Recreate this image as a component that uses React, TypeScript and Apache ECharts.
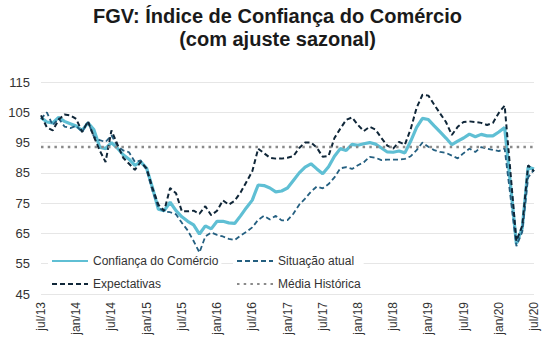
import React, { useEffect, useRef } from "react";
import * as echarts from "echarts";

const monthNames = ["jan", "fev", "mar", "abr", "mai", "jun", "jul", "ago", "set", "out", "nov", "dez"];
// jul/13 .. jul/20 (monthly)
const categories: string[] = [];
for (let y = 2013, m = 6; y < 2020 || (y === 2020 && m <= 6); ) {
  categories.push(`${monthNames[m]}/${String(y).slice(2)}`);
  m++;
  if (m === 12) { m = 0; y++; }
}

const confianca = [
  103.3, 101.8, 101.5, 103.3, 102, 101.2, 100.5, 99, 101.5, 99.3, 93.5, 93,
  95, 93.2, 91, 89.5, 87.5, 88.6, 86.5, 80, 73, 72.5, 75.3, 72.5,
  70.5, 69, 67.8, 64.8, 67.5, 66.5, 69, 69, 68.5, 68.3, 70.8, 73.5,
  76, 81, 80.8, 80, 78.7, 79, 80, 82.5, 85, 86.9, 88, 86.3,
  84.7, 87, 90.5, 93, 92.4, 94.4, 94.1, 94.6, 95, 94.5, 93.2, 91.9,
  91.8, 92.2, 91.6, 95.5, 100, 103, 102.6, 100.5, 98.5, 96.5, 94.3, 95.5,
  96.5, 97.8, 96.9, 97.7, 97.2, 97.2, 98.5, 100, 81, 61.6, 66.8, 86.9,
  86.3,
];

const situacaoAtual = [
  102.8, 105, 100.7, 103, 100.3, 99.8, 100.5, 98.5, 101.8, 97, 95.8, 95.2,
  97.4, 94, 92.4, 91.8, 88.6, 89.1, 86, 79, 73.5, 72.2, 72, 71.3,
  68.5, 66, 62.5, 58.7, 64, 65.3, 64.5, 64, 63.2, 62.8, 64.3, 65.5,
  67, 69.5, 70.8, 69.6, 70.8, 69.3, 69.4, 71.5, 74.5, 76.5, 78.8, 80.5,
  79.9, 81.3, 83.5, 86.5, 86.9, 86.3, 87.5, 88.5, 90.3, 90, 89.2, 89.4,
  89.4, 89.4, 89.6, 90.5, 92.5, 95, 93.6, 92.5, 91.9, 91.6, 90.7, 89.8,
  91.5, 93, 91.9, 93.5, 93, 92.6, 92.2, 93, 77, 60.8, 65.5, 83.5,
  86,
];

const expectativas = [
  104, 100, 99, 102.5, 104.3, 104, 102.8, 98.5, 102, 97, 92.4, 88.6,
  99, 94.5, 90, 88, 86, 88.6, 86.5, 80, 74.5, 72.5, 80, 78.3,
  72.3, 72.3, 72.5, 71.5, 74, 71, 72.5, 75.9, 74.5, 75.8, 78.5, 82,
  85.5, 93, 91.5, 90, 89.7, 89.7, 90, 90.5, 93.2, 95, 95, 93.3,
  90.3, 90.6, 96.5, 99.6, 102.5, 103.3, 100.8, 98.8, 100.2, 99.3, 96.5, 94,
  93, 95.2, 94.3, 99.5, 106.5, 110.8, 110.5, 107.5, 104.6, 101.8, 97.5, 100.2,
  101.8, 102, 101.8, 101.5, 100.8, 101.5, 104.8, 107.2, 85, 62.5, 67.5, 87.5,
  85.5,
];

const mediaHistorica = 93.5;

const yTicks = { min: 45, max: 115, interval: 10 };

const FONT = "'Liberation Sans', Arial, sans-serif";

const legendBase = {
  orient: "vertical",
  top: 253,
  padding: [2, 3],
  backgroundColor: "#ffffff",
  itemWidth: 36,
  itemHeight: 12,
  itemGap: 11,
  itemStyle: { opacity: 0 },
  textStyle: { fontFamily: FONT, fontSize: 12, color: "#333333" },
};

export default function App() {
  const ref = useRef<HTMLDivElement>(null);
  useEffect(() => {
    if (!ref.current) return;
    const chart = echarts.init(ref.current, null, { renderer: "svg" });
    chart.setOption({
      animation: false,
      backgroundColor: "#ffffff",
      textStyle: { fontFamily: FONT },
      title: [
        {
          text: "FGV: Índice de Confiança do Comércio",
          left: "center",
          top: 6,
          padding: 0,
          textStyle: { fontFamily: FONT, fontSize: 20, fontWeight: "bold", color: "#1a1a1a" },
        },
        {
          text: "(com ajuste sazonal)",
          left: "center",
          top: 29,
          padding: 0,
          textStyle: { fontFamily: FONT, fontSize: 20, fontWeight: "bold", color: "#1a1a1a" },
        },
      ],
      grid: { left: 41, right: 21, top: 82, bottom: 56 },
      legend: [
        { ...legendBase, left: 48, data: ["Confiança do Comércio", "Expectativas"] },
        { ...legendBase, left: 233, data: ["Situação atual", "Média Histórica"] },
      ],
      xAxis: {
        type: "category",
        data: categories,
        boundaryGap: false,
        axisLine: { show: false },
        axisTick: { show: false },
        axisLabel: {
          interval: 5,
          rotate: 90,
          margin: 8,
          fontFamily: FONT,
          fontSize: 12,
          color: "#333333",
        },
        splitLine: { show: false },
      },
      yAxis: {
        type: "value",
        min: yTicks.min,
        max: yTicks.max,
        interval: yTicks.interval,
        axisLine: { show: false },
        axisTick: { show: false },
        axisLabel: { fontFamily: FONT, fontSize: 13, color: "#333333", margin: 11 },
        splitLine: { lineStyle: { color: "#e6e6e6", width: 1 } },
      },
      series: [
        {
          name: "Confiança do Comércio",
          type: "line",
          data: confianca,
          symbol: "none",
          color: "#5fbfd4",
          lineStyle: { color: "#5fbfd4", width: 3.2 },
          z: 2,
        },
        {
          name: "Situação atual",
          type: "line",
          data: situacaoAtual,
          symbol: "none",
          color: "#245f80",
          lineStyle: { color: "#245f80", width: 1.8, type: [5, 3] },
          z: 3,
        },
        {
          name: "Expectativas",
          type: "line",
          data: expectativas,
          symbol: "none",
          color: "#0f2638",
          lineStyle: { color: "#0f2638", width: 2, type: [5, 3] },
          z: 4,
        },
        {
          name: "Média Histórica",
          type: "line",
          data: categories.map(() => mediaHistorica),
          symbol: "none",
          color: "#8a8a8a",
          lineStyle: { color: "#8a8a8a", width: 2.5, type: [2.5, 4.2] },
          z: 5,
        },
      ],
    });
    return () => chart.dispose();
  }, []);
  return (
    <div
      ref={ref}
      style={{ position: "absolute", left: 0, top: 0, width: 555, height: 350 }}
    />
  );
}
